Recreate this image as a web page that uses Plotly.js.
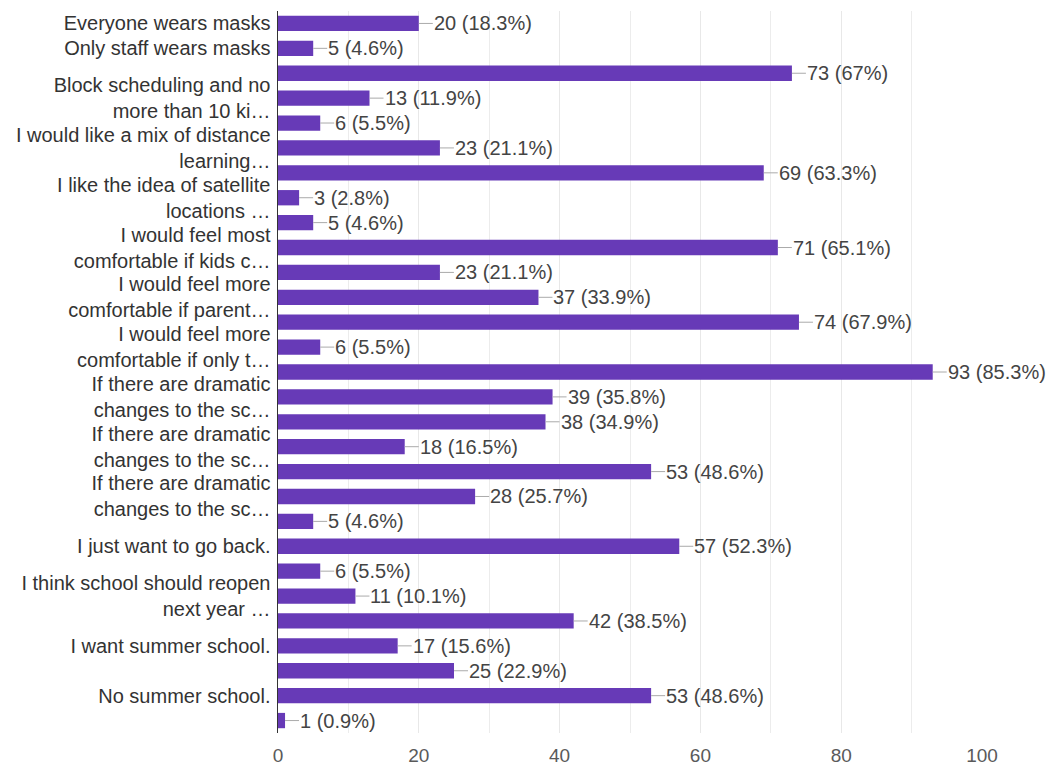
<!DOCTYPE html>
<html>
<head>
<meta charset="utf-8">
<script src="https://cdn.plot.ly/plotly-3.0.1.min.js"></script>
<style>
  html, body { margin: 0; padding: 0; background: #fff; }
  #chart { width: 1048px; height: 768px; }
</style>
</head>
<body>
<div id="chart"></div>
<script>
// Category labels as shown (blank = label not displayed for that bar)
const categories = [
  "Everyone wears masks",
  "Only staff wears masks",
  "",
  "Block scheduling and no<br>more than 10 ki…",
  "",
  "I would like a mix of distance<br>learning…",
  "",
  "I like the idea of satellite<br>locations …",
  "",
  "I would feel most<br>comfortable if kids c…",
  "",
  "I would feel more<br>comfortable if parent…",
  "",
  "I would feel more<br>comfortable if only t…",
  "",
  "If there are dramatic<br>changes to the sc…",
  "",
  "If there are dramatic<br>changes to the sc…",
  "",
  "If there are dramatic<br>changes to the sc…",
  "",
  "I just want to go back.",
  "",
  "I think school should reopen<br>next year …",
  "",
  "I want summer school.",
  "",
  "No summer school.",
  ""
];

const counts = [20, 5, 73, 13, 6, 23, 69, 3, 5, 71, 23, 37, 74, 6, 93, 39, 38, 18, 53, 28, 5, 57, 6, 11, 42, 17, 25, 53, 1];

const percents = ["18.3", "4.6", "67", "11.9", "5.5", "21.1", "63.3", "2.8", "4.6", "65.1", "21.1", "33.9", "67.9", "5.5", "85.3", "35.8", "34.9", "16.5", "48.6", "25.7", "4.6", "52.3", "5.5", "10.1", "38.5", "15.6", "22.9", "48.6", "0.9"];

const xTicks = [0, 20, 40, 60, 80, 100];

const idx = counts.map((_, i) => i);

const trace = {
  type: 'bar',
  orientation: 'h',
  x: counts,
  y: idx,
  marker: { color: '#673ab7', line: { width: 0 } },
  hoverinfo: 'none'
};

const annotations = counts.map((v, i) => ({
  x: v,
  y: i,
  xref: 'x',
  yref: 'y',
  text: v + ' (' + percents[i] + '%)',
  showarrow: true,
  arrowhead: 0,
  arrowwidth: 1,
  arrowcolor: '#aaaaaa',
  ax: 14,
  ay: 0,
  xanchor: 'left',
  yanchor: 'middle',
  borderpad: 0,
  font: { family: '"Liberation Sans", Arial, sans-serif', size: 20, color: '#444444' }
}));

const layout = {
  width: 1048,
  height: 768,
  margin: { l: 278, r: 66, t: 11, b: 35, pad: 0 },
  paper_bgcolor: '#ffffff',
  plot_bgcolor: '#ffffff',
  showlegend: false,
  bargap: 0.385,
  font: { family: '"Liberation Sans", Arial, sans-serif', size: 20, color: '#333333' },
  xaxis: {
    range: [0, 100],
    tickmode: 'array',
    tickvals: xTicks,
    ticktext: xTicks.map(String),
    showgrid: true,
    gridcolor: '#e8e8e8',
    gridwidth: 1,
    minor: { dtick: 10, showgrid: true, gridcolor: '#ececec', gridwidth: 1 },
    zeroline: false,
    showline: false,
    ticks: '',
    ticklabelstandoff: 9,
    tickfont: { size: 19, color: '#5a5a5a' },
    fixedrange: true
  },
  yaxis: {
    range: [28.5, -0.5],
    tickmode: 'array',
    tickvals: idx,
    ticktext: categories,
    showgrid: false,
    zeroline: false,
    showline: true,
    linecolor: '#333333',
    linewidth: 1.5,
    ticks: '',
    ticklabelstandoff: 2,
    tickfont: { size: 20, color: '#333333' },
    automargin: false,
    fixedrange: true
  },
  annotations: annotations
};

Plotly.newPlot('chart', [trace], layout, { displayModeBar: false, staticPlot: true });
</script>
</body>
</html>
